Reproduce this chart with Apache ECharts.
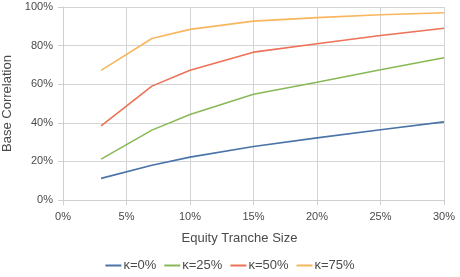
<!DOCTYPE html>
<html><head><meta charset="utf-8">
<script src="https://cdn.jsdelivr.net/npm/echarts@6/dist/echarts.min.js"></script>
<style>html,body{margin:0;padding:0;background:#fff}#c{width:460px;height:277px}</style>
</head><body><div id="c"></div>
<script>
const tranche = [0.03, 0.07, 0.10, 0.15, 0.20, 0.25, 0.30];
const seriesNames = ['κ=0%', 'κ=25%', 'κ=50%', 'κ=75%'];
const k0 = [0.112, 0.18, 0.222, 0.277, 0.322, 0.364, 0.405];
const k25 = [0.212, 0.362, 0.443, 0.548, 0.61, 0.675, 0.737];
const k50 = [0.384, 0.59, 0.672, 0.766, 0.81, 0.852, 0.89];
const k75 = [0.672, 0.837, 0.884, 0.927, 0.945, 0.96, 0.97];
const colors = ['#4a74a8', '#88b957', '#ee7157', '#f8b65d'];
const values = [k0, k25, k50, k75];
const pct = v => Math.round(v * 100) + '%';
const chart = echarts.init(document.getElementById('c'));
chart.setOption({
  animation: false,
  textStyle: { fontFamily: 'Liberation Sans, Arial, sans-serif' },
  grid: { left: 63, right: 16, top: 7, bottom: 77, containLabel: false, outerBoundsMode: 'none' },
  legend: {
    bottom: 0, left: 'center', icon: 'rect', itemWidth: 16, itemHeight: 2, itemGap: 8,
    textStyle: { color: '#4a4a4a', fontSize: 13, padding: [0, 0, 0, -3] },
    data: seriesNames
  },
  xAxis: {
    type: 'value', min: 0, max: 0.3, interval: 0.05,
    name: 'Equity Tranche Size', nameLocation: 'middle', nameGap: 32,
    nameTextStyle: { color: '#4a4a4a', fontSize: 13, padding: [0, 28, 0, 0] },
    axisLine: { show: true, lineStyle: { color: '#cfcfcf' } },
    axisTick: { show: true, length: 5, lineStyle: { color: '#cfcfcf' } },
    axisLabel: { formatter: pct, color: '#4a4a4a', fontSize: 11, margin: 11 },
    splitLine: { show: true, lineStyle: { color: '#d4d4d4' } }
  },
  yAxis: {
    type: 'value', min: 0, max: 1, interval: 0.2,
    name: 'Base Correlation', nameLocation: 'middle', nameGap: 48,
    nameTextStyle: { color: '#4a4a4a', fontSize: 13 },
    axisLine: { show: true, lineStyle: { color: '#cfcfcf' } },
    axisTick: { show: true, length: 5, lineStyle: { color: '#cfcfcf' } },
    axisLabel: { formatter: pct, color: '#4a4a4a', fontSize: 11, margin: 10 },
    splitLine: { show: true, lineStyle: { color: '#d4d4d4' } }
  },
  series: seriesNames.map((n, i) => ({
    name: n, type: 'line', showSymbol: false, symbol: 'none',
    color: colors[i], lineStyle: { width: 1.6, color: colors[i] },
    data: tranche.map((x, j) => [x, values[i][j]])
  }))
});
</script></body></html>
